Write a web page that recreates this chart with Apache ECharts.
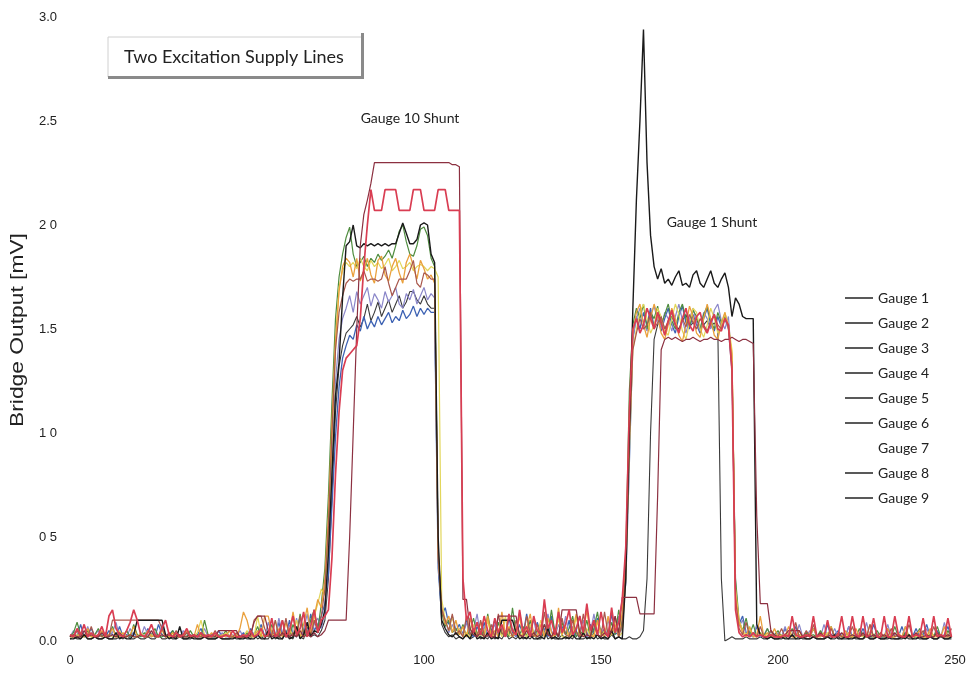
<!DOCTYPE html>
<html><head><meta charset="utf-8">
<script src="https://cdn.jsdelivr.net/npm/echarts@6/dist/echarts.min.js"></script>
<style>html,body{margin:0;padding:0;background:#fff}#c{width:980px;height:674px}</style>
</head><body><div id="c"></div>
<script>
// sample times (s)
const sampleTimes = [
0,1,2,3,4,5,6,7,8,9,10,11,12,13,14,15,16,17,18,19,20,21,22,23,24,25,26,27,28,29,
30,31,32,33,34,35,36,37,38,39,40,41,42,43,44,45,46,47,48,49,50,51,52,53,54,55,56,57,58,59,
60,61,62,63,64,65,66,67,68,69,70,71,72,73,74,75,76,77,78,79,80,81,82,83,84,85,86,87,88,89,
90,91,92,93,94,95,96,97,98,99,100,101,102,103,104,105,106,107,108,109,110,111,112,113,114,115,116,117,118,119,
120,121,122,123,124,125,126,127,128,129,130,131,132,133,134,135,136,137,138,139,140,141,142,143,144,145,146,147,148,149,
150,151,152,153,154,155,156,157,158,159,160,161,162,163,164,165,166,167,168,169,170,171,172,173,174,175,176,177,178,179,
180,181,182,183,184,185,186,187,188,189,190,191,192,193,194,195,196,197,198,199,200,201,202,203,204,205,206,207,208,209,
210,211,212,213,214,215,216,217,218,219,220,221,222,223,224,225,226,227,228,229,230,231,232,233,234,235,236,237,238,239,
240,241,242,243,244,245,246,247,248,249];

const gauge1 = [
0.02,0.03,0.02,0.08,0.02,0.03,0.06,0.02,0.02,0.03,
0.02,0.05,0.03,0.02,0.07,0.02,0.03,0.02,0.04,0.02,
0.03,0.02,0.06,0.03,0.02,0.08,0.03,0.02,0.03,0.05,
0.02,0.03,0.02,0.04,0.02,0.02,0.03,0.06,0.02,0.03,
0.02,0.02,0.05,0.02,0.03,0.02,0.02,0.03,0.02,0.04,
0.02,0.06,0.02,0.03,0.08,0.02,0.03,0.05,0.02,0.09,
0.03,0.02,0.10,0.03,0.02,0.12,0.04,0.03,0.13,0.05,
0.08,0.12,0.18,0.32,0.65,0.98,1.22,1.36,1.42,1.47,
1.45,1.52,1.49,1.56,1.50,1.54,1.51,1.56,1.52,1.55,
1.58,1.53,1.56,1.54,1.59,1.55,1.57,1.61,1.56,1.60,
1.57,1.60,1.58,1.58,0.35,0.12,0.16,0.08,0.12,0.05,
0.08,0.03,0.10,0.04,0.02,0.07,0.03,0.09,0.02,0.05,
0.10,0.03,0.06,0.02,0.11,0.04,0.02,0.08,0.03,0.13,
0.04,0.02,0.09,0.03,0.06,0.02,0.12,0.04,0.02,0.07,
0.03,0.10,0.02,0.05,0.12,0.03,0.02,0.08,0.04,0.11,
0.03,0.06,0.02,0.13,0.04,0.03,0.10,0.28,0.85,1.45,
1.56,1.50,1.58,1.52,1.60,1.51,1.57,1.49,1.55,1.60,
1.52,1.48,1.56,1.61,1.53,1.50,1.57,1.52,1.48,1.55,
1.60,1.52,1.49,1.56,1.51,1.55,1.50,1.30,0.25,0.08,
0.12,0.04,0.03,0.02,0.07,0.02,0.03,0.02,0.05,0.02,
0.03,0.02,0.06,0.02,0.03,0.07,0.02,0.02,0.04,0.02,
0.06,0.02,0.03,0.02,0.08,0.02,0.03,0.05,0.02,0.02,
0.07,0.02,0.03,0.02,0.06,0.02,0.02,0.08,0.03,0.02,
0.02,0.06,0.02,0.03,0.02,0.07,0.02,0.03,0.02,0.06,
0.02,0.03,0.08,0.02,0.02,0.05,0.02,0.03,0.07,0.02];

const gauge2 = [
0.01,0.01,0.02,0.01,0.03,0.01,0.01,0.02,0.01,0.01,
0.02,0.01,0.01,0.04,0.01,0.02,0.01,0.01,0.03,0.10,
0.10,0.10,0.10,0.10,0.10,0.10,0.10,0.03,0.01,0.02,
0.01,0.07,0.01,0.01,0.02,0.01,0.01,0.01,0.02,0.01,
0.01,0.01,0.02,0.01,0.01,0.01,0.01,0.02,0.01,0.01,
0.02,0.01,0.01,0.03,0.01,0.01,0.05,0.01,0.02,0.01,
0.01,0.04,0.01,0.02,0.07,0.01,0.03,0.09,0.02,0.05,
0.04,0.08,0.15,0.42,0.80,1.18,1.34,1.65,1.90,1.92,
2.00,1.90,1.89,1.91,1.90,1.91,1.90,1.91,1.90,1.91,
1.90,1.91,1.91,1.96,2.01,1.96,1.91,1.91,1.93,2.00,
2.01,2.00,1.86,1.82,0.50,0.10,0.06,0.03,0.02,0.04,
0.02,0.01,0.03,0.01,0.05,0.01,0.02,0.01,0.04,0.01,
0.02,0.01,0.10,0.10,0.10,0.10,0.04,0.01,0.02,0.01,
0.03,0.01,0.01,0.02,0.01,0.06,0.01,0.02,0.01,0.01,
0.02,0.01,0.03,0.01,0.01,0.04,0.01,0.02,0.01,0.03,
0.01,0.02,0.01,0.05,0.01,0.02,0.01,0.30,1.00,1.60,
2.12,2.50,2.94,2.30,1.95,1.80,1.74,1.79,1.72,1.74,
1.71,1.75,1.78,1.71,1.72,1.70,1.76,1.78,1.72,1.70,
1.74,1.78,1.72,1.70,1.74,1.77,1.70,1.56,1.65,1.62,
1.56,1.55,1.55,1.55,0.08,0.03,0.02,0.01,0.02,0.01,
0.01,0.02,0.01,0.01,0.03,0.01,0.01,0.02,0.01,0.01,
0.02,0.01,0.01,0.01,0.02,0.01,0.03,0.01,0.01,0.02,
0.01,0.01,0.02,0.01,0.01,0.03,0.01,0.01,0.02,0.01,
0.01,0.02,0.01,0.01,0.01,0.02,0.01,0.03,0.01,0.01,
0.02,0.01,0.01,0.02,0.01,0.01,0.03,0.01,0.01,0.02];

const gauge3 = [
0.02,0.04,0.09,0.03,0.02,0.05,0.02,0.03,0.06,0.02,
0.03,0.02,0.07,0.02,0.03,0.02,0.05,0.02,0.08,0.03,
0.02,0.04,0.02,0.03,0.06,0.02,0.02,0.03,0.02,0.05,
0.02,0.03,0.02,0.02,0.05,0.02,0.03,0.02,0.10,0.03,
0.02,0.02,0.03,0.02,0.05,0.02,0.02,0.03,0.02,0.02,
0.04,0.02,0.03,0.07,0.02,0.03,0.02,0.08,0.03,0.02,
0.10,0.03,0.02,0.08,0.03,0.13,0.04,0.02,0.10,0.15,
0.05,0.18,0.35,0.70,1.15,1.55,1.75,1.86,1.94,1.99,
1.86,1.80,1.82,1.85,1.80,1.84,1.82,1.86,1.83,1.85,
1.88,1.84,1.90,1.97,2.00,1.92,1.86,1.85,1.90,1.98,
1.99,1.95,1.84,1.80,0.45,0.14,0.07,0.10,0.04,0.06,
0.03,0.08,0.02,0.05,0.11,0.03,0.06,0.02,0.13,0.04,
0.02,0.09,0.03,0.05,0.02,0.16,0.04,0.03,0.07,0.02,
0.10,0.03,0.05,0.02,0.08,0.03,0.15,0.04,0.02,0.09,
0.03,0.06,0.12,0.02,0.05,0.03,0.10,0.02,0.06,0.14,
0.03,0.05,0.02,0.09,0.03,0.15,0.05,0.40,1.20,1.52,
1.60,1.55,1.62,1.50,1.58,1.55,1.61,1.52,1.57,1.62,
1.54,1.50,1.58,1.62,1.55,1.51,1.59,1.56,1.50,1.57,
1.61,1.54,1.50,1.58,1.53,1.56,1.52,1.35,0.30,0.10,
0.05,0.11,0.03,0.08,0.02,0.04,0.02,0.06,0.02,0.03,
0.05,0.02,0.03,0.02,0.06,0.02,0.03,0.02,0.04,0.02,
0.03,0.02,0.05,0.02,0.02,0.07,0.02,0.03,0.02,0.02,
0.04,0.02,0.02,0.06,0.02,0.03,0.02,0.02,0.05,0.02,
0.02,0.03,0.02,0.07,0.02,0.02,0.04,0.02,0.03,0.02,
0.06,0.02,0.02,0.03,0.02,0.07,0.02,0.02,0.05,0.02];

const gauge4 = [
0.03,0.02,0.05,0.02,0.03,0.02,0.07,0.02,0.03,0.02,
0.04,0.02,0.10,0.10,0.10,0.10,0.10,0.10,0.10,0.10,
0.10,0.10,0.10,0.10,0.10,0.10,0.06,0.02,0.03,0.02,
0.05,0.02,0.02,0.04,0.02,0.03,0.02,0.02,0.03,0.02,
0.02,0.05,0.02,0.02,0.03,0.02,0.02,0.04,0.02,0.02,
0.03,0.02,0.10,0.12,0.12,0.06,0.02,0.03,0.10,0.02,
0.03,0.11,0.02,0.04,0.02,0.12,0.03,0.05,0.02,0.10,
0.04,0.12,0.25,0.55,1.00,1.40,1.58,1.66,1.72,1.74,
1.73,1.74,1.74,1.78,1.73,1.74,1.74,1.73,1.74,1.80,
1.72,1.66,1.70,1.74,1.74,1.74,1.78,1.83,1.72,1.70,
1.77,1.76,1.74,1.74,0.42,0.15,0.10,0.05,0.13,0.03,
0.05,0.02,0.12,0.03,0.06,0.02,0.10,0.03,0.02,0.08,
0.02,0.13,0.04,0.02,0.06,0.02,0.10,0.03,0.02,0.12,
0.04,0.02,0.08,0.02,0.14,0.03,0.02,0.06,0.02,0.11,
0.03,0.02,0.10,0.04,0.02,0.13,0.03,0.02,0.09,0.03,
0.02,0.14,0.03,0.05,0.12,0.02,0.08,0.35,0.95,1.40,
1.48,1.55,1.50,1.52,1.58,1.50,1.53,1.56,1.50,1.54,
1.58,1.52,1.49,1.55,1.51,1.57,1.53,1.50,1.55,1.52,
1.49,1.54,1.57,1.52,1.50,1.55,1.51,1.32,0.20,0.06,
0.03,0.09,0.02,0.04,0.02,0.07,0.02,0.02,0.05,0.02,
0.02,0.06,0.02,0.03,0.02,0.09,0.02,0.02,0.05,0.02,
0.08,0.02,0.03,0.02,0.02,0.06,0.02,0.04,0.02,0.02,
0.02,0.07,0.02,0.02,0.03,0.02,0.08,0.02,0.02,0.04,
0.02,0.02,0.06,0.02,0.03,0.02,0.02,0.08,0.02,0.03,
0.02,0.05,0.02,0.02,0.07,0.02,0.03,0.02,0.02,0.06];

const gauge5 = [
0.02,0.03,0.02,0.04,0.02,0.06,0.02,0.03,0.02,0.05,
0.02,0.03,0.06,0.02,0.02,0.04,0.02,0.03,0.07,0.02,
0.03,0.02,0.05,0.02,0.03,0.02,0.06,0.02,0.02,0.04,
0.02,0.03,0.02,0.05,0.02,0.02,0.08,0.02,0.03,0.02,
0.04,0.02,0.02,0.03,0.02,0.05,0.02,0.02,0.06,0.14,
0.10,0.03,0.02,0.05,0.02,0.12,0.12,0.04,0.02,0.06,
0.02,0.09,0.03,0.14,0.04,0.02,0.08,0.16,0.03,0.12,
0.20,0.16,0.30,0.60,1.05,1.45,1.68,1.80,1.84,1.82,
1.75,1.84,1.73,1.78,1.84,1.76,1.72,1.83,1.85,1.76,
1.73,1.80,1.84,1.77,1.72,1.82,1.86,1.80,1.74,1.83,
1.79,1.74,1.76,1.72,0.40,0.16,0.08,0.12,0.04,0.10,
0.03,0.07,0.02,0.11,0.04,0.02,0.09,0.03,0.12,0.02,
0.05,0.02,0.14,0.03,0.07,0.02,0.04,0.12,0.02,0.06,
0.13,0.03,0.02,0.08,0.02,0.11,0.04,0.02,0.16,0.03,
0.07,0.02,0.05,0.13,0.02,0.04,0.15,0.03,0.02,0.10,
0.04,0.02,0.12,0.03,0.08,0.02,0.14,0.38,1.05,1.48,
1.58,1.62,1.52,1.46,1.55,1.62,1.56,1.48,1.45,1.52,
1.60,1.55,1.47,1.44,1.52,1.61,1.56,1.48,1.46,1.55,
1.62,1.55,1.47,1.45,1.53,1.58,1.50,1.38,0.22,0.09,
0.04,0.02,0.07,0.02,0.03,0.12,0.02,0.04,0.02,0.06,
0.02,0.03,0.02,0.07,0.02,0.02,0.05,0.02,0.03,0.02,
0.06,0.02,0.02,0.04,0.02,0.07,0.02,0.03,0.02,0.05,
0.02,0.02,0.06,0.02,0.03,0.02,0.08,0.02,0.02,0.04,
0.02,0.06,0.02,0.02,0.03,0.02,0.07,0.02,0.02,0.03,
0.05,0.02,0.02,0.06,0.02,0.03,0.02,0.07,0.02,0.02];

const gauge6 = [
0.03,0.02,0.06,0.03,0.08,0.02,0.04,0.02,0.03,0.07,
0.02,0.12,0.15,0.06,0.03,0.02,0.05,0.09,0.15,0.10,
0.03,0.02,0.04,0.08,0.03,0.02,0.06,0.10,0.03,0.02,
0.04,0.02,0.03,0.06,0.02,0.03,0.02,0.04,0.02,0.03,
0.02,0.04,0.02,0.02,0.03,0.02,0.05,0.02,0.02,0.03,
0.02,0.05,0.02,0.03,0.06,0.02,0.03,0.11,0.02,0.04,
0.10,0.02,0.05,0.12,0.03,0.06,0.14,0.02,0.07,0.15,
0.04,0.10,0.12,0.15,0.40,0.80,1.10,1.30,1.36,1.38,
1.40,1.42,1.55,1.80,2.00,2.17,2.07,2.07,2.07,2.17,
2.17,2.17,2.17,2.07,2.07,2.07,2.07,2.17,2.17,2.17,
2.07,2.07,2.07,2.07,2.17,2.17,2.17,2.07,2.07,2.07,
2.07,0.30,0.10,0.14,0.04,0.09,0.03,0.12,0.05,0.02,
0.11,0.04,0.08,0.02,0.13,0.05,0.03,0.15,0.04,0.07,
0.02,0.12,0.05,0.03,0.20,0.06,0.10,0.03,0.14,0.04,
0.08,0.15,0.03,0.06,0.12,0.04,0.18,0.05,0.10,0.03,
0.14,0.05,0.02,0.16,0.04,0.09,0.20,0.45,1.10,1.50,
1.55,1.48,1.52,1.60,1.55,1.50,1.58,1.53,1.47,1.54,
1.59,1.52,1.48,1.55,1.60,1.52,1.49,1.56,1.58,1.51,
1.48,1.53,1.57,1.50,1.49,1.55,1.52,1.30,0.15,0.04,
0.02,0.03,0.02,0.04,0.02,0.03,0.02,0.02,0.03,0.02,
0.02,0.02,0.03,0.02,0.12,0.03,0.02,0.02,0.03,0.02,
0.12,0.02,0.03,0.02,0.10,0.02,0.02,0.03,0.12,0.02,
0.02,0.12,0.03,0.02,0.12,0.02,0.03,0.11,0.02,0.02,
0.12,0.02,0.02,0.12,0.03,0.02,0.02,0.12,0.02,0.03,
0.02,0.11,0.02,0.02,0.12,0.02,0.03,0.02,0.11,0.02];

const gauge7 = [
0.02,0.02,0.03,0.02,0.02,0.04,0.02,0.02,0.03,0.02,
0.02,0.03,0.02,0.02,0.05,0.02,0.02,0.03,0.02,0.02,
0.04,0.02,0.02,0.03,0.02,0.02,0.05,0.02,0.02,0.03,
0.02,0.02,0.03,0.02,0.02,0.02,0.04,0.10,0.03,0.02,
0.02,0.03,0.02,0.02,0.04,0.02,0.02,0.03,0.02,0.02,
0.05,0.02,0.02,0.12,0.03,0.02,0.04,0.02,0.10,0.02,
0.03,0.02,0.06,0.02,0.10,0.03,0.02,0.08,0.03,0.12,
0.18,0.25,0.22,0.50,0.95,1.40,1.70,1.78,1.82,1.80,
1.82,1.79,1.84,1.80,1.78,1.83,1.80,1.82,1.79,1.81,
1.84,1.78,1.80,1.83,1.79,1.80,1.82,1.78,1.80,1.81,
1.80,1.78,1.80,1.79,1.75,0.20,0.10,0.05,0.12,0.03,
0.06,0.02,0.04,0.02,0.08,0.02,0.03,0.02,0.10,0.02,
0.03,0.06,0.02,0.12,0.03,0.02,0.07,0.02,0.04,0.02,
0.08,0.02,0.03,0.10,0.02,0.05,0.02,0.03,0.11,0.02,
0.02,0.04,0.02,0.12,0.03,0.02,0.06,0.02,0.03,0.09,
0.02,0.05,0.02,0.03,0.10,0.02,0.04,0.30,0.90,1.40,
1.50,1.58,1.62,1.55,1.48,1.52,1.60,1.56,1.49,1.47,
1.55,1.62,1.57,1.49,1.45,1.53,1.60,1.58,1.50,1.46,
1.52,1.60,1.55,1.48,1.50,1.58,1.52,1.40,0.25,0.10,
0.05,0.03,0.06,0.02,0.02,0.04,0.02,0.03,0.02,0.02,
0.03,0.02,0.02,0.04,0.02,0.02,0.03,0.02,0.02,0.04,
0.02,0.02,0.03,0.02,0.04,0.02,0.02,0.03,0.02,0.02,
0.04,0.02,0.02,0.03,0.02,0.02,0.04,0.02,0.02,0.03,
0.02,0.03,0.02,0.02,0.04,0.02,0.02,0.03,0.02,0.02,
0.03,0.02,0.02,0.04,0.02,0.02,0.03,0.02,0.02,0.03];

const gauge8 = [
0.02,0.05,0.02,0.03,0.02,0.07,0.02,0.03,0.05,0.02,
0.03,0.02,0.04,0.09,0.02,0.03,0.02,0.06,0.02,0.03,
0.02,0.07,0.03,0.02,0.04,0.02,0.08,0.02,0.03,0.02,
0.03,0.02,0.05,0.02,0.02,0.03,0.02,0.02,0.06,0.02,
0.02,0.03,0.02,0.04,0.02,0.02,0.03,0.02,0.05,0.02,
0.03,0.02,0.04,0.02,0.06,0.02,0.09,0.03,0.02,0.11,
0.04,0.02,0.08,0.03,0.11,0.02,0.05,0.13,0.03,0.08,
0.11,0.06,0.14,0.40,0.85,1.25,1.45,1.55,1.60,1.66,
1.58,1.68,1.62,1.66,1.70,1.61,1.67,1.64,1.60,1.68,
1.63,1.66,1.70,1.62,1.60,1.67,1.64,1.69,1.62,1.66,
1.70,1.64,1.67,1.65,0.40,0.14,0.10,0.04,0.08,0.03,
0.06,0.03,0.09,0.02,0.05,0.13,0.02,0.07,0.03,0.04,
0.08,0.02,0.05,0.11,0.03,0.06,0.02,0.14,0.04,0.03,
0.06,0.10,0.02,0.04,0.03,0.13,0.05,0.02,0.08,0.03,
0.12,0.03,0.07,0.02,0.05,0.10,0.02,0.04,0.13,0.03,
0.06,0.02,0.10,0.04,0.03,0.12,0.04,0.32,0.95,1.46,
1.55,1.60,1.53,1.49,1.57,1.61,1.54,1.50,1.58,1.55,
1.49,1.56,1.62,1.54,1.48,1.55,1.60,1.53,1.49,1.58,
1.55,1.50,1.59,1.62,1.54,1.50,1.56,1.33,0.28,0.07,
0.10,0.03,0.05,0.02,0.08,0.02,0.03,0.06,0.02,0.02,
0.04,0.02,0.07,0.02,0.03,0.02,0.08,0.02,0.02,0.05,
0.02,0.03,0.02,0.08,0.02,0.02,0.06,0.02,0.03,0.02,
0.07,0.02,0.02,0.04,0.02,0.09,0.02,0.02,0.03,0.02,
0.02,0.08,0.02,0.03,0.02,0.02,0.07,0.02,0.03,0.02,
0.02,0.02,0.06,0.02,0.03,0.02,0.02,0.09,0.02,0.03];

const gauge9 = [
0.01,0.02,0.01,0.01,0.03,0.01,0.01,0.02,0.01,0.01,
0.02,0.01,0.01,0.01,0.02,0.01,0.03,0.01,0.01,0.02,
0.01,0.01,0.02,0.01,0.01,0.03,0.01,0.01,0.02,0.01,
0.01,0.02,0.01,0.01,0.01,0.02,0.01,0.01,0.03,0.01,
0.01,0.01,0.02,0.01,0.01,0.01,0.02,0.01,0.01,0.02,
0.01,0.01,0.03,0.01,0.02,0.01,0.01,0.04,0.01,0.02,
0.01,0.05,0.02,0.01,0.06,0.02,0.01,0.07,0.02,0.03,
0.02,0.05,0.10,0.30,0.70,1.10,1.32,1.42,1.48,1.50,
1.52,1.56,1.51,1.55,1.62,1.54,1.58,1.63,1.56,1.60,
1.64,1.58,1.62,1.66,1.60,1.63,1.68,1.68,1.64,1.62,
1.66,1.62,1.60,1.60,0.40,0.08,0.04,0.02,0.03,0.01,
0.02,0.01,0.03,0.01,0.02,0.04,0.01,0.02,0.01,0.03,
0.01,0.02,0.01,0.04,0.01,0.02,0.01,0.03,0.01,0.02,
0.01,0.03,0.01,0.01,0.05,0.01,0.02,0.01,0.01,0.03,
0.01,0.02,0.01,0.05,0.01,0.01,0.02,0.01,0.04,0.01,
0.02,0.01,0.01,0.03,0.01,0.02,0.01,0.01,0.02,0.01,
0.01,0.02,0.05,0.30,1.00,1.45,1.52,1.55,1.50,1.53,
1.56,1.52,1.50,1.54,1.57,1.51,1.53,1.55,1.50,1.52,
1.54,1.51,1.53,1.50,0.30,0.00,0.01,0.02,0.01,0.01,
0.01,0.02,0.01,0.01,0.01,0.02,0.01,0.01,0.02,0.01,
0.01,0.01,0.02,0.01,0.01,0.01,0.02,0.01,0.01,0.01,
0.02,0.01,0.01,0.01,0.02,0.01,0.01,0.02,0.01,0.01,
0.01,0.02,0.01,0.01,0.01,0.02,0.01,0.01,0.02,0.01,
0.01,0.01,0.02,0.01,0.01,0.01,0.02,0.01,0.01,0.02,
0.01,0.01,0.01,0.02,0.01,0.01,0.02,0.01,0.01,0.01];

const gauge10 = [
0.02,0.03,0.02,0.02,0.05,0.02,0.03,0.02,0.02,0.04,
0.02,0.02,0.03,0.02,0.04,0.02,0.02,0.03,0.02,0.02,
0.03,0.02,0.02,0.05,0.02,0.02,0.03,0.02,0.04,0.02,
0.02,0.03,0.02,0.02,0.03,0.02,0.02,0.04,0.02,0.02,
0.03,0.02,0.05,0.05,0.05,0.05,0.05,0.05,0.02,0.02,
0.02,0.03,0.09,0.12,0.12,0.12,0.05,0.02,0.03,0.02,
0.04,0.02,0.02,0.03,0.02,0.05,0.02,0.03,0.02,0.04,
0.02,0.03,0.05,0.10,0.10,0.10,0.10,0.10,0.10,0.50,
1.00,1.50,1.90,2.05,2.12,2.20,2.30,2.30,2.30,2.30,
2.30,2.30,2.30,2.30,2.30,2.30,2.30,2.30,2.30,2.30,
2.30,2.30,2.30,2.30,2.30,2.30,2.30,2.30,2.29,2.29,
2.28,0.20,0.20,0.06,0.03,0.02,0.04,0.02,0.03,0.02,
0.02,0.12,0.12,0.12,0.12,0.12,0.12,0.03,0.02,0.05,
0.02,0.04,0.02,0.03,0.08,0.03,0.02,0.05,0.02,0.15,
0.15,0.15,0.15,0.15,0.04,0.02,0.03,0.02,0.10,0.03,
0.02,0.04,0.02,0.05,0.12,0.04,0.21,0.21,0.21,0.21,
0.21,0.13,0.13,0.13,0.13,0.13,0.70,1.40,1.45,1.46,
1.45,1.46,1.45,1.44,1.45,1.45,1.46,1.45,1.44,1.45,
1.45,1.46,1.45,1.45,1.44,1.45,1.45,1.46,1.45,1.44,
1.45,1.45,1.44,1.43,0.60,0.18,0.18,0.18,0.05,0.03,
0.02,0.02,0.03,0.05,0.05,0.05,0.05,0.02,0.02,0.03,
0.02,0.02,0.04,0.02,0.02,0.03,0.02,0.02,0.04,0.02,
0.02,0.03,0.02,0.02,0.04,0.02,0.02,0.03,0.02,0.02,
0.03,0.02,0.02,0.04,0.02,0.02,0.03,0.02,0.02,0.04,
0.02,0.02,0.03,0.02,0.02,0.04,0.02,0.02,0.03,0.02];

const legendNames = ['Gauge 1','Gauge 2','Gauge 3','Gauge 4','Gauge 5','Gauge 6','Gauge 7','Gauge 8','Gauge 9'];
const xTickValues = [0, 50, 100, 150, 200, 250];
const yTickLabels = ['0.0', '0 5', '1 0', '1.5', '2 0', '2.5', '3.0'];
const yAxisTitle = 'Bridge Output [mV]';
const annotations = {
  box: 'Two Excitation Supply Lines',
  shunt10: 'Gauge 10 Shunt',
  shunt1: 'Gauge 1 Shunt'
};

// drawing order: back to front
const seriesDefs = [
  {name: 'Gauge 9', data: gauge9, color: '#3a3a3a', width: 1.1},
  {name: 'Gauge 1', data: gauge1, color: '#3d62b3', width: 1.3},
  {name: 'Gauge 8', data: gauge8, color: '#8a86c9', width: 1.2},
  {name: 'Gauge 3', data: gauge3, color: '#4e8c3e', width: 1.2},
  {name: 'Gauge 7', data: gauge7, color: '#e2d65a', width: 1.2},
  {name: 'Gauge 5', data: gauge5, color: '#eaa03c', width: 1.3},
  {name: 'Gauge 4', data: gauge4, color: '#a9584c', width: 1.2},
  {name: 'Gauge 2', data: gauge2, color: '#1a1a1a', width: 1.4},
  {name: 'Gauge 10', data: gauge10, color: '#8c3040', width: 1.2},
  {name: 'Gauge 6', data: gauge6, color: '#d93d52', width: 1.7}
];

const chart = echarts.init(document.getElementById('c'), null, {renderer: 'canvas'});
const humanist = '"Lato", "Open Sans", sans-serif';
chart.setOption({
  animation: false,
  backgroundColor: '#ffffff',
  grid: {left: 70, right: 25, top: 17, bottom: 33, containLabel: false},
  xAxis: {
    type: 'value', min: 0, max: 250, interval: 50,
    axisLine: {show: false}, axisTick: {show: false}, splitLine: {show: false},
    axisLabel: {margin: 13, fontFamily: 'Liberation Sans', fontSize: 13, color: '#222',
      formatter: v => xTickValues.indexOf(v) >= 0 ? String(v) : ''}
  },
  yAxis: {
    type: 'value', min: 0, max: 3, interval: 0.5,
    axisLine: {show: false}, axisTick: {show: false}, splitLine: {show: false},
    axisLabel: {margin: 13, fontFamily: 'Liberation Sans', fontSize: 13, color: '#222',
      formatter: v => yTickLabels[Math.round(v / 0.5)]}
  },
  legend: {
    orient: 'vertical', left: 840, top: 286,
    icon: 'rect', itemWidth: 28, itemHeight: 1.5, itemGap: 11,
    textStyle: {fontFamily: humanist, fontSize: 14, color: '#222'},
    data: legendNames.map(n => ({
      name: n,
      itemStyle: {color: n === 'Gauge 7' ? 'rgba(0,0,0,0)' : '#222'}
    }))
  },
  series: seriesDefs.map(s => ({
    name: s.name, type: 'line', showSymbol: false, symbol: 'none',
    color: s.color,
    lineStyle: {color: s.color, width: s.width},
    emphasis: {disabled: true},
    data: s.data.map((v, i) => [sampleTimes[i], v])
  })),
  graphic: [
    {type: 'text', x: 18, y: 330, rotation: Math.PI / 2, scaleX: 1.2, z: 12,
      style: {text: yAxisTitle, font: '19px "Liberation Sans"', fill: '#222', align: 'center', verticalAlign: 'middle'}},
    {type: 'rect', shape: {x: 108, y: 37, width: 254, height: 40}, style: {fill: '#fff', stroke: '#d0d0d0', lineWidth: 1}, z: 10},
    {type: 'rect', shape: {x: 361, y: 33, width: 3, height: 46}, style: {fill: '#8a8a8a'}, z: 11},
    {type: 'rect', shape: {x: 108, y: 76, width: 256, height: 3}, style: {fill: '#8a8a8a'}, z: 11},
    {type: 'text', x: 234, y: 57, z: 12, style: {text: annotations.box, font: '18px ' + humanist, fill: '#222', align: 'center', verticalAlign: 'middle'}},
    {type: 'text', x: 410, y: 118, z: 12, style: {text: annotations.shunt10, font: '14px ' + humanist, fill: '#222', align: 'center', verticalAlign: 'middle'}},
    {type: 'text', x: 712, y: 222, z: 12, style: {text: annotations.shunt1, font: '14px ' + humanist, fill: '#222', align: 'center', verticalAlign: 'middle'}}
  ]
});
</script>
</body></html>
